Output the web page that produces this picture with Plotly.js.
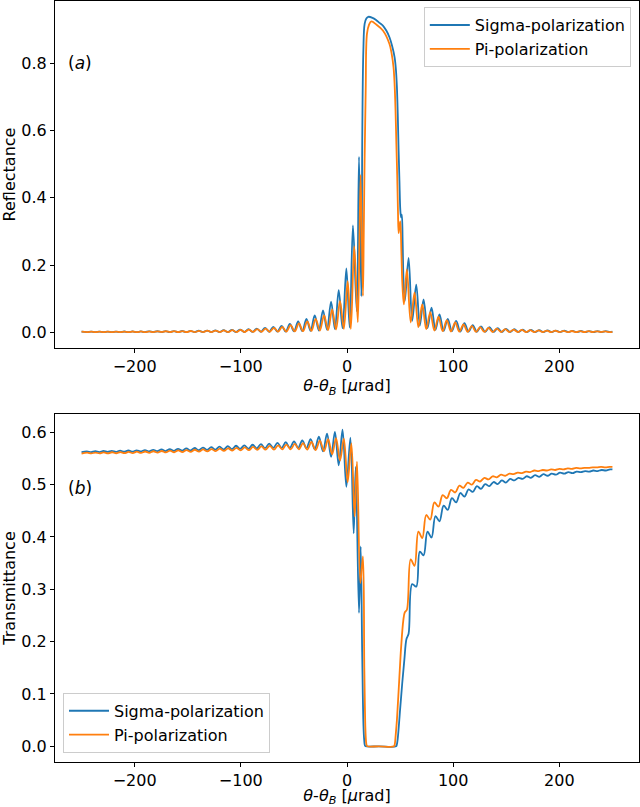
<!DOCTYPE html>
<html>
<head>
<meta charset="utf-8">
<script src="https://cdn.plot.ly/plotly-3.0.1.min.js"></script>
<style>html,body{margin:0;padding:0;background:#fff;}#plot{width:640px;height:807px;}</style>
</head>
<body>
<div id="plot"></div>
<script>
// ---- Sigma polarization: fringe extrema positions (left wing), shared by R and T
var xSigL = [-250.0, -244.9, -241.0, -237.1, -233.2, -229.3, -225.4, -221.5, -217.6, -213.7, -209.8, -205.9, -202.0, -198.1, -194.2, -190.3, -186.4, -182.5, -178.6, -174.7, -170.8, -166.9, -163.0, -159.1, -155.2, -151.3, -147.4, -143.5, -139.6, -135.7, -131.8, -127.9, -124.0, -120.1, -116.2, -112.3, -108.4, -104.5, -100.6, -96.7, -92.8, -88.9, -85.0, -81.1, -77.2, -73.3, -69.4, -65.5, -61.6, -57.7, -53.8, -49.9, -46.0, -42.1, -38.2, -34.3, -30.4, -26.5, -22.6, -18.8, -15.0, -11.4, -7.8, -4.2, -0.6];
var RSigL = [0.0016, 0.0002, 0.0017, 0.0002, 0.0018, 0.0002, 0.0019, 0.0002, 0.0020, 0.0002, 0.0022, 0.0002, 0.0023, 0.0002, 0.0025, 0.0003, 0.0027, 0.0003, 0.0029, 0.0003, 0.0031, 0.0003, 0.0034, 0.0003, 0.0037, 0.0003, 0.0040, 0.0004, 0.0045, 0.0004, 0.0050, 0.0004, 0.0055, 0.0005, 0.0060, 0.0005, 0.0070, 0.0006, 0.0080, 0.0007, 0.0090, 0.0008, 0.0110, 0.0010, 0.0130, 0.0012, 0.0160, 0.0015, 0.0190, 0.0020, 0.0250, 0.0025, 0.0320, 0.0030, 0.0400, 0.0040, 0.0500, 0.0050, 0.0650, 0.0070, 0.0910, 0.0090, 0.1250, 0.0120, 0.1900];
var TSigL = [0.5620, 0.5637, 0.5621, 0.5640, 0.5623, 0.5643, 0.5625, 0.5646, 0.5627, 0.5649, 0.5628, 0.5652, 0.5630, 0.5656, 0.5633, 0.5661, 0.5636, 0.5666, 0.5639, 0.5672, 0.5642, 0.5678, 0.5645, 0.5685, 0.5649, 0.5692, 0.5653, 0.5700, 0.5658, 0.5708, 0.5663, 0.5716, 0.5668, 0.5725, 0.5673, 0.5734, 0.5678, 0.5743, 0.5683, 0.5752, 0.5688, 0.5762, 0.5692, 0.5773, 0.5697, 0.5785, 0.5701, 0.5797, 0.5703, 0.5810, 0.5704, 0.5825, 0.5702, 0.5843, 0.5695, 0.5870, 0.5675, 0.5915, 0.5635, 0.5975, 0.5530, 0.6010, 0.5370, 0.6050, 0.4960];
// centre (Bragg band)
var xSigRC = [2.5, 5.6, 9.2, 11.3, 13.5, 14.4, 15.4, 16.6, 18.2, 20.0, 24.0, 27.6, 31.0, 33.8, 37.0, 40.0, 42.5, 44.8, 46.0, 47.0, 47.8, 48.6, 49.4, 50.2, 50.9, 51.6, 52.4, 53.3, 54.5];
var RSigC  = [0.014, 0.318, 0.062, 0.522, 0.107, 0.59, 0.838, 0.918, 0.934, 0.939, 0.936, 0.929, 0.920, 0.913, 0.898, 0.878, 0.852, 0.819, 0.785, 0.730, 0.650, 0.542, 0.450, 0.365, 0.342, 0.350, 0.270, 0.148, 0.093];
var xSigTC = [3.2, 6.3, 8.2, 11.3, 12.9, 14.3, 15.5, 16.2, 16.8, 17.5, 30.0, 46.2, 46.9, 47.8, 50.0, 52.0, 54.0, 56.0];
var TSigC  = [0.590, 0.407, 0.534, 0.255, 0.382, 0.180, 0.040, 0.012, 0.002, 0.0, 0.0, 0.0, 0.003, 0.015, 0.070, 0.120, 0.165, 0.205];
// right wing
var xSigR = [58.0, 61.4, 65.2, 68.6, 72.1, 75.8, 79.6, 83.3, 87.1, 91.0, 94.9, 98.8, 102.8, 106.7, 110.6, 114.5, 118.4, 122.3, 126.2, 130.1, 134.1, 138.0, 141.9, 145.8, 149.7, 153.6, 157.6, 161.5, 165.4, 169.3, 173.2, 177.1, 181.1, 185.0, 188.9, 192.8, 196.7, 200.6, 204.6, 208.5, 212.4, 216.3, 220.3, 224.2, 228.1, 232.0, 235.9, 239.8, 243.8, 247.7, 250.0];
var RSigR = [0.221, 0.034, 0.142, 0.020, 0.098, 0.012, 0.073, 0.007, 0.053, 0.004, 0.040, 0.003, 0.034, 0.002, 0.027, 0.0015, 0.021, 0.0012, 0.017, 0.001, 0.015, 0.0008, 0.012, 0.0007, 0.010, 0.0006, 0.009, 0.0005, 0.008, 0.0005, 0.007, 0.0004, 0.006, 0.0004, 0.0055, 0.0004, 0.005, 0.0003, 0.0045, 0.0003, 0.004, 0.0003, 0.0037, 0.0003, 0.0035, 0.0003, 0.003, 0.0003, 0.003, 0.0003, 0.0015];
var TSigR = [0.215, 0.310, 0.305, 0.372, 0.365, 0.410, 0.399, 0.440, 0.430, 0.460, 0.452, 0.474, 0.466, 0.484, 0.477, 0.491, 0.486, 0.497, 0.492, 0.501, 0.497, 0.505, 0.501, 0.508, 0.504, 0.511, 0.508, 0.513, 0.511, 0.516, 0.513, 0.518, 0.515, 0.520, 0.517, 0.521, 0.519, 0.523, 0.521, 0.524, 0.522, 0.525, 0.524, 0.526, 0.525, 0.527, 0.526, 0.528, 0.527, 0.529, 0.529];

// ---- Pi polarization
var xPiL = [-250.0, -244.7, -240.8, -236.9, -233.0, -229.1, -225.2, -221.3, -217.4, -213.5, -209.6, -205.7, -201.8, -197.9, -194.0, -190.1, -186.2, -182.3, -178.4, -174.5, -170.6, -166.7, -162.8, -158.9, -155.0, -151.1, -147.2, -143.3, -139.4, -135.5, -131.5, -127.6, -123.7, -119.8, -115.9, -112.0, -108.0, -104.1, -100.2, -96.3, -92.4, -88.5, -84.5, -80.6, -76.7, -72.8, -68.8, -64.9, -61.0, -57.1, -53.1, -49.2, -45.3, -41.4, -37.4, -33.5, -29.5, -25.6, -21.6, -17.8, -14.0, -10.3, -6.6, -3.0, 0.6];
var RPiL = [0.0015, 0.0002, 0.0016, 0.0002, 0.0017, 0.0002, 0.0018, 0.0002, 0.0019, 0.0002, 0.0020, 0.0002, 0.0021, 0.0002, 0.0023, 0.0003, 0.0025, 0.0003, 0.0027, 0.0003, 0.0029, 0.0003, 0.0031, 0.0003, 0.0034, 0.0003, 0.0037, 0.0004, 0.0040, 0.0004, 0.0045, 0.0004, 0.0050, 0.0005, 0.0055, 0.0005, 0.0060, 0.0006, 0.0070, 0.0007, 0.0080, 0.0008, 0.0095, 0.0010, 0.0110, 0.0012, 0.0130, 0.0015, 0.0160, 0.0020, 0.0210, 0.0025, 0.0260, 0.0030, 0.0320, 0.0040, 0.0400, 0.0050, 0.0500, 0.0060, 0.0680, 0.0080, 0.0930, 0.0100, 0.1520];
var TPiL = [0.5595, 0.5611, 0.5596, 0.5613, 0.5597, 0.5616, 0.5598, 0.5619, 0.5600, 0.5622, 0.5601, 0.5625, 0.5603, 0.5629, 0.5606, 0.5633, 0.5609, 0.5638, 0.5612, 0.5643, 0.5615, 0.5649, 0.5618, 0.5655, 0.5622, 0.5661, 0.5626, 0.5667, 0.5630, 0.5673, 0.5635, 0.5680, 0.5640, 0.5687, 0.5645, 0.5695, 0.5650, 0.5703, 0.5655, 0.5711, 0.5660, 0.5720, 0.5664, 0.5730, 0.5668, 0.5741, 0.5671, 0.5752, 0.5674, 0.5764, 0.5676, 0.5778, 0.5675, 0.5795, 0.5670, 0.5815, 0.5660, 0.5840, 0.5640, 0.5870, 0.5580, 0.5890, 0.5460, 0.5880, 0.5050];
var xPiRC = [3.6, 6.8, 10.2, 12.8, 15.0, 15.8, 16.6, 17.6, 18.8, 20.7, 22.9, 27.6, 33.8, 40.0, 42.0, 43.8, 44.8, 45.7, 46.5, 47.3, 48.0, 48.6, 49.4, 50.2, 51.2, 52.1, 53.6];
var RPiC  = [0.010, 0.256, 0.030, 0.468, 0.108, 0.300, 0.520, 0.720, 0.888, 0.915, 0.925, 0.916, 0.898, 0.858, 0.830, 0.789, 0.740, 0.660, 0.560, 0.463, 0.360, 0.295, 0.315, 0.330, 0.240, 0.147, 0.083];
var xPiTC = [4.1, 7.2, 9.4, 12.6, 15.0, 16.3, 17.3, 17.9, 18.5, 19.2, 30.0, 44.3, 45.0, 45.8, 47.0, 49.0, 51.0, 53.0, 54.4];
var TPiC  = [0.579, 0.439, 0.544, 0.312, 0.363, 0.150, 0.035, 0.010, 0.002, 0.0, 0.0, 0.0, 0.004, 0.020, 0.050, 0.120, 0.190, 0.240, 0.256];
var xPiR = [56.4, 60.0, 63.6, 67.25, 70.9, 74.65, 78.4, 82.3, 86.2, 90.1, 94.0, 97.95, 101.9, 105.8, 109.7, 113.65, 117.6, 121.5, 125.4, 129.35, 133.3, 137.2, 141.1, 145.05, 149.0, 152.9, 156.8, 160.75, 164.7, 168.6, 172.5, 176.45, 180.4, 184.35, 188.3, 192.2, 196.1, 200.05, 204.0, 207.9, 211.8, 215.75, 219.7, 223.6, 227.5, 231.45, 235.4, 239.35, 243.3, 247.3, 250.0];
var RPiR = [0.187, 0.029, 0.118, 0.015, 0.083, 0.009, 0.060, 0.005, 0.046, 0.003, 0.036, 0.002, 0.029, 0.0015, 0.023, 0.0012, 0.019, 0.001, 0.015, 0.0008, 0.013, 0.0007, 0.011, 0.0006, 0.009, 0.0005, 0.008, 0.0005, 0.007, 0.0004, 0.006, 0.0004, 0.0055, 0.0004, 0.005, 0.0003, 0.0045, 0.0003, 0.004, 0.0003, 0.0037, 0.0003, 0.0034, 0.0003, 0.0031, 0.0003, 0.0028, 0.0003, 0.0026, 0.0003, 0.0014];
var TPiR = [0.261, 0.357, 0.345, 0.410, 0.398, 0.442, 0.433, 0.466, 0.458, 0.480, 0.474, 0.490, 0.485, 0.498, 0.494, 0.504, 0.500, 0.509, 0.506, 0.513, 0.510, 0.516, 0.514, 0.519, 0.517, 0.521, 0.520, 0.523, 0.522, 0.525, 0.524, 0.527, 0.526, 0.528, 0.527, 0.529, 0.528, 0.530, 0.529, 0.531, 0.530, 0.532, 0.531, 0.532, 0.532, 0.533, 0.533, 0.534, 0.533, 0.534, 0.534];

var xTickVals = [-200, -100, 0, 100, 200];
var seriesNames = ['Sigma-polarization', 'Pi-polarization'];
var colors = ['#1f77b4', '#ff7f0e'];

var lineStyle = function (c) { return {color: c, width: 1.8, shape: 'spline', smoothing: 1}; };

var traces = [
  {x: xSigL.concat(xSigRC, xSigR), y: RSigL.concat(RSigC, RSigR), name: seriesNames[0], mode: 'lines', line: lineStyle(colors[0]), xaxis: 'x', yaxis: 'y', legend: 'legend'},
  {x: xPiL.concat(xPiRC, xPiR), y: RPiL.concat(RPiC, RPiR), name: seriesNames[1], mode: 'lines', line: lineStyle(colors[1]), xaxis: 'x', yaxis: 'y', legend: 'legend'},
  {x: xSigL.concat(xSigTC, xSigR), y: TSigL.concat(TSigC, TSigR), name: seriesNames[0], mode: 'lines', line: lineStyle(colors[0]), xaxis: 'x2', yaxis: 'y2', legend: 'legend2'},
  {x: xPiL.concat(xPiTC, xPiR), y: TPiL.concat(TPiC, TPiR), name: seriesNames[1], mode: 'lines', line: lineStyle(colors[1]), xaxis: 'x2', yaxis: 'y2', legend: 'legend2'}
];

var fontFam = 'DejaVu Sans, sans-serif';
var xTitle = '<i>θ</i>-<i>θ</i><sub><i>B</i></sub> [<i>μ</i>rad]';
var axisCommon = {
  showline: true, mirror: true, linecolor: '#000', linewidth: 1,
  ticks: 'outside', ticklen: 4, tickwidth: 1, tickcolor: '#000',
  showgrid: false, zeroline: false,
  tickfont: {family: fontFam, size: 16, color: '#000'}
};
function ax(extra) { return Object.assign({}, axisCommon, extra); }

var layout = {
  width: 640, height: 807,
  margin: {l: 55, r: 1, t: 1, b: 45},
  paper_bgcolor: '#fff', plot_bgcolor: '#fff',
  font: {family: fontFam, size: 16, color: '#000'},
  xaxis: ax({domain: [0, 1], anchor: 'y', range: [-275, 275], tickvals: xTickVals,
    title: {text: xTitle, font: {family: fontFam, size: 16, color: '#000'}, standoff: 2}}),
  yaxis: ax({domain: [0.544, 1], anchor: 'x', range: [-0.047, 0.986], tickvals: [0, 0.2, 0.4, 0.6, 0.8], tickformat: '.1f',
    title: {text: 'Reflectance', font: {family: fontFam, size: 16, color: '#000'}, standoff: 11}}),
  xaxis2: ax({domain: [0, 1], anchor: 'y2', range: [-275, 275], tickvals: xTickVals,
    title: {text: xTitle, font: {family: fontFam, size: 16, color: '#000'}, standoff: 2}}),
  yaxis2: ax({domain: [0, 0.4573], anchor: 'x2', range: [-0.030, 0.635], tickvals: [0, 0.1, 0.2, 0.3, 0.4, 0.5, 0.6], tickformat: '.1f',
    title: {text: 'Transmittance', font: {family: fontFam, size: 16, color: '#000'}, standoff: 11}}),
  legend: {x: 0.986, xanchor: 'right', y: 0.992, yanchor: 'top', itemwidth: 40, bgcolor: 'rgba(255,255,255,0.8)', bordercolor: '#cccccc', borderwidth: 1,
    font: {family: fontFam, size: 16, color: '#000'}},
  legend2: {x: 0.0137, xanchor: 'left', y: 0.012, yanchor: 'bottom', itemwidth: 40, bgcolor: 'rgba(255,255,255,0.8)', bordercolor: '#cccccc', borderwidth: 1,
    font: {family: fontFam, size: 16, color: '#000'}},
  annotations: [
    {x: -251, y: 0.8, xref: 'x', yref: 'y', text: '(<i>a</i>)', showarrow: false, font: {family: fontFam, size: 17, color: '#000'}},
    {x: -251, y: 0.494, xref: 'x2', yref: 'y2', text: '(<i>b</i>)', showarrow: false, font: {family: fontFam, size: 17, color: '#000'}}
  ]
};

Plotly.newPlot('plot', traces, layout, {displayModeBar: false, staticPlot: true});
</script>
</body>
</html>
